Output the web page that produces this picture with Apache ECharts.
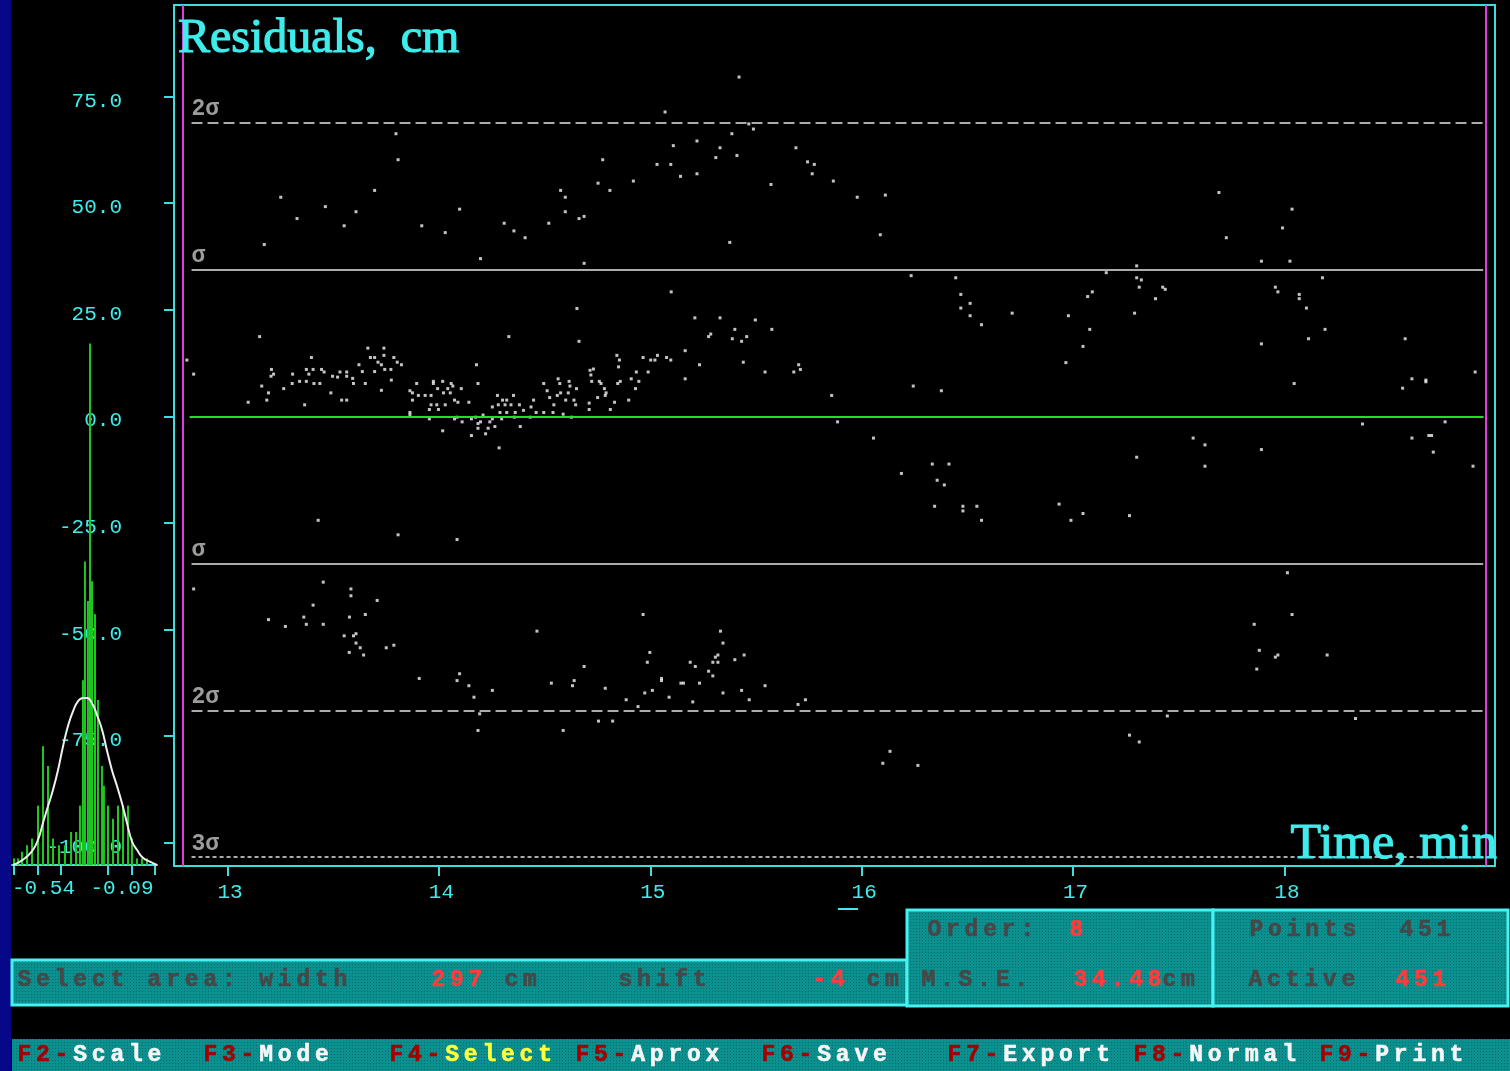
<!DOCTYPE html>
<html>
<head>
<meta charset="utf-8">
<script src="https://cdn.jsdelivr.net/npm/echarts@6/dist/echarts.min.js"></script>
<style>
  html, body { margin: 0; padding: 0; background: #000; }
  #chart { width: 1510px; height: 1071px; }
</style>
</head>
<body>
<div id="chart"></div>
<script>
// ---- axis ticks -------------------------------------------------------
const timeTicks = [13, 14, 15, 16, 17, 18];
const residualTicks = [75, 50, 25, 0, -25, -50, -75, -100];
const histTicks = [-0.69, -0.54, -0.39, -0.09, 0.06, 0.21];
const histLabelTicks = [-0.54, -0.09];

// ---- fit statistics ---------------------------------------------------
const mse = 34.48;            // cm
const fitOrder = 8;
const pointsTotal = 451;
const pointsActive = 451;
const selectWidth = 297;      // cm
const selectShift = -4;       // cm
const selection = [12.788, 18.95];   // min, selected time window
const sigmaLevels = [2, 1, -1, -2, -3];

// ---- residuals: [time, min ; residual, cm] -----------------------------
const samples = [
  [15.42,79.6],[15.07,71.4],[15.466,68.6],[15.488,67.4],[13.797,66.3],[15.386,66.3],[15.221,64.6],[15.109,63.5],
  [15.330,63.0],[15.689,63.0],[15.310,60.7],[15.410,61.2],[13.807,60.2],[14.775,60.2],[15.032,59.1],[15.097,59.1],
  [15.744,59.7],[15.776,59.1],[15.766,56.9],[15.143,56.3],[15.221,56.9],[15.866,55.2],[14.920,55.2],[14.753,54.7],
  [15.571,54.4],[13.696,53.0],[14.576,53.0],[14.809,53.0],[13.252,51.4],[14.598,51.4],[13.463,49.2],[14.098,48.6],
  [13.608,48.0],[14.598,48.0],[14.687,46.9],[14.663,46.4],[13.329,46.4],[14.309,45.3],[14.520,45.3],[13.552,44.7],
  [13.919,44.7],[14.355,43.5],[14.030,43.1],[14.408,41.9],[15.376,40.8],[13.174,40.3],[14.197,37.0],[14.687,35.9],
  [15.099,29.2],[14.653,25.3],[15.211,23.1],[15.330,23.1],[15.497,22.6],[15.575,20.4],[13.152,18.7],[14.331,18.7],
  [15.286,19.3],[15.276,18.7],[15.400,20.4],[15.388,18.2],[15.432,17.6],[15.456,18.7],[14.663,17.6],[15.165,15.4],
  [12.808,13.2],[12.840,9.9],[13.397,13.8],
  [13.664,16.0],[13.740,16.0],[13.676,13.8],[13.696,13.8],[13.740,14.3],[13.712,12.7],[13.787,13.8],[13.803,12.7],
  [13.823,12.1],[13.728,12.1],[13.744,11.0],[13.773,11.0],[13.622,12.1],[13.638,10.5],[13.696,10.5],[13.775,8.5],
  [13.728,6.1],[13.208,11.0],[13.218,9.9],[13.206,9.4],[13.308,9.9],[13.373,11.0],[13.405,11.0],[13.385,9.9],
  [13.445,11.0],[13.457,10.4],[13.497,9.4],[13.521,9.2],[13.532,10.4],[13.564,10.4],[13.564,9.4],[13.592,8.9],
  [13.596,7.7],[13.652,7.7],[13.341,8.2],[13.373,8.2],[13.409,7.7],[13.437,7.7],[13.306,7.7],[13.162,7.1],
  [13.194,5.5],[13.266,6.5],[13.489,5.5],[13.098,3.3],[13.186,3.8],[13.365,2.7],[13.540,3.8],[13.564,3.8],
  [13.895,7.7],[13.875,5.5],[13.863,6.0],[13.875,3.8],[13.974,8.2],[13.974,7.7],[14.018,8.2],[14.058,7.7],
  [14.066,7.1],[13.994,6.5],[14.042,6.5],[14.106,6.5],[13.903,4.9],[13.935,4.9],[13.963,4.9],[14.022,5.5],
  [14.054,5.5],[13.963,2.7],[13.990,2.7],[14.030,2.7],[13.955,1.6],[13.998,1.6],[14.074,3.8],[14.090,3.3],
  [14.142,3.3],[14.185,7.7],[14.178,12.1],
  [14.277,4.9],[14.301,3.8],[14.321,3.8],[14.353,4.9],[14.281,2.7],[14.313,2.7],[14.341,2.7],[14.381,2.7],
  [14.253,2.2],[14.289,0.9],[14.321,0.9],[14.361,0.9],[14.400,1.4],[14.448,3.8],[14.436,2.2],[14.460,0.9],
  [13.863,0.9],[13.863,0.3],
  [14.496,7.7],[14.512,6.0],[14.564,8.8],[14.572,7.7],[14.560,4.9],[14.616,8.2],[14.620,7.1],[14.651,6.5],
  [14.576,5.5],[14.612,5.5],[14.600,3.8],[14.639,3.8],[14.647,2.7],[14.524,4.4],[14.544,2.7],[14.496,0.9],
  [14.540,0.9],[14.588,0.5],[14.627,-0.2],
  [14.715,10.8],[14.731,11.1],[14.719,9.7],[14.723,8.2],[14.759,8.2],[14.767,7.7],[14.783,6.5],[14.791,5.5],
  [14.787,4.9],[14.751,4.4],[14.711,3.1],[14.711,1.6],[14.831,3.3],[14.811,1.6],
  [14.842,14.3],[14.854,13.2],[14.850,11.6],[14.846,7.7],[14.858,8.2],[14.898,3.8],[14.934,10.4],[14.910,8.8],
  [14.946,8.2],[14.930,6.5],[14.990,10.4],[14.966,13.8],[15.002,13.2],[15.022,13.2],[15.034,14.3],[15.077,13.8],
  [15.097,13.2],[15.165,8.8],[15.233,12.1],[15.440,12.7],[15.543,10.4],[15.679,10.4],[15.702,12.1],[15.710,11.0],
  [15.858,4.9],
  [13.955,-0.6],[14.018,-3.4],[14.074,-0.6],[14.086,-0.2],[14.110,-1.3],[14.154,-0.6],[14.154,-4.5],[14.174,-0.2],
  [14.185,-1.7],[14.185,-2.8],[14.197,-1.3],[14.221,-4.1],[14.233,-2.8],[14.241,-1.3],[14.253,-0.6],[14.265,-2.4],
  [14.285,-7.4],[14.297,-0.6],[14.357,-0.2],[14.385,-2.4],[14.432,-0.2],[14.209,0.3],
  [13.429,-24.4],[13.807,-27.8],[14.086,-28.9],[12.840,-40.5],[13.453,-38.9],[13.584,-40.5],[13.584,-42.1],[13.708,-43.2],
  [13.405,-44.3],[13.194,-47.7],[13.274,-49.3],[13.361,-47.1],[13.373,-48.8],[13.453,-48.8],[13.577,-47.1],[13.652,-46.5],
  [13.552,-51.5],[13.596,-51.5],[13.608,-51.0],[13.608,-53.2],[13.628,-54.3],[13.576,-55.4],[13.644,-56.0],[13.751,-54.3],
  [13.787,-53.7],[14.464,-50.4],[14.966,-46.5],[15.332,-50.4],[15.344,-53.2],[15.444,-56.0],[15.400,-57.1],[14.998,-55.4],
  [14.986,-57.7],[15.320,-56.0],[15.308,-56.5],[15.296,-57.7],[15.320,-57.7],[15.189,-57.7],[15.213,-58.7],[15.276,-59.8],
  [15.296,-60.9],[14.687,-58.7],[14.098,-60.4],[14.086,-62.0],[14.142,-63.2],[14.166,-65.9],[14.253,-64.3],[13.907,-61.5],
  [14.532,-62.6],[14.640,-62.0],[14.632,-63.2],[14.787,-63.8],[14.886,-66.5],[14.942,-68.1],[14.974,-64.9],[15.010,-64.3],
  [15.053,-61.5],[15.053,-62.0],[15.089,-65.9],[15.145,-62.6],[15.157,-62.6],[15.201,-67.0],[15.233,-62.6],[15.344,-64.9],
  [15.432,-64.3],[15.468,-66.5],[15.543,-63.2],[15.699,-67.6],[15.734,-66.5],[14.193,-69.8],[14.185,-73.7],[14.588,-73.7],
  [14.755,-71.5],[14.822,-71.5],[15.886,-1.3],
  [15.979,51.4],[16.112,51.9],[17.690,52.5],[18.036,48.6],[17.991,44.2],[16.088,42.6],[17.725,41.9],[17.891,36.4],
  [18.026,36.4],[17.301,35.3],[16.234,33.0],[16.445,32.5],[17.157,33.7],[17.301,32.5],[17.323,32.0],[17.313,30.3],
  [17.424,30.3],[17.436,29.8],[18.180,32.5],[17.957,30.3],[17.969,29.2],[18.070,28.6],[18.070,27.6],[18.104,25.4],
  [16.469,28.6],[16.513,26.5],[16.469,25.4],[16.513,23.6],[16.567,21.5],[16.712,24.2],[16.978,23.6],[17.091,29.2],
  [17.069,28.1],[17.390,27.6],[17.291,24.2],[17.079,20.4],[17.047,16.4],[16.966,12.6],[18.192,20.4],[18.114,18.2],
  [18.571,18.2],[17.891,17.0],[18.046,7.7],[18.559,6.6],[18.603,8.8],[18.669,8.5],[18.669,8.1],[18.902,10.4],
  [16.244,7.1],[16.377,6.0],
  [16.056,-5.1],[16.188,-13.4],[16.334,-11.2],[16.413,-11.2],[16.357,-15.0],[16.391,-16.1],[16.345,-21.1],[16.479,-21.1],
  [16.479,-22.2],[16.545,-21.1],[16.567,-24.4],[16.934,-20.6],[16.990,-24.4],[17.047,-22.8],[17.267,-23.3],[17.301,-9.6],
  [17.568,-5.1],[17.624,-6.7],[17.624,-11.7],[17.891,-7.8],[18.369,-1.8],[18.603,-5.1],[18.683,-4.5],[18.696,-4.5],
  [18.704,-8.4],[18.760,-1.3],[18.892,-11.7],[18.014,-36.7],[18.036,-46.5],[17.857,-48.8],[17.881,-54.9],[17.957,-56.5],
  [17.969,-56.0],[17.869,-59.3],[18.202,-56.0],[17.446,-70.3],[18.336,-70.9],[17.267,-74.8],[17.313,-76.4],[16.134,-78.6],
  [16.100,-81.4],[16.266,-81.9]
];

// ---- residual histogram and its normal fit ----------------------------
const histBins = [-0.690,-0.664,-0.639,-0.607,-0.575,-0.537,-0.505,-0.473,-0.441,-0.403,-0.365,-0.326,-0.294,-0.269,
                  -0.250,-0.237,-0.218,-0.205,-0.192,-0.173,-0.154,-0.128,-0.116,-0.090,-0.058,-0.026,0.006,0.038,
                  0.063,0.095,0.127,0.159,0.191];
const histCounts = [1,1,2,3,4,9,18,15,4,3,3,5,5,9,28,46,40,79,43,38,25,15,12,9,7,9,9,9,4,1,1,1,0];
const fitX = [-0.696,-0.633,-0.575,-0.537,-0.505,-0.473,-0.441,-0.409,-0.377,-0.345,-0.313,-0.282,-0.250,-0.224,
              -0.192,-0.160,-0.128,-0.097,-0.065,-0.033,-0.001,0.031,0.063,0.095,0.133,0.178,0.223];
const fitY = [0,0.8,2.1,3.8,6.4,8.9,11.4,14.4,18.0,21.1,23.3,24.8,25.3,25.3,24.5,22.7,20.5,17.4,14.4,12.0,9.4,6.4,
              3.6,2.3,1.1,0.5,0];

// ---- styling ------------------------------------------------------------
const CYAN = '#3fecec';
const FRAME = '#3fdede';
const SIGMA = '#ababab';
const MONO = '"Liberation Mono", "DejaVu Sans Mono", monospace';
const MONO_FAMILY = 'Liberation Mono';
const CELL = 18.6;   // text-mode character cell width

// dotted teal fill used by the status panels
function tealPattern() {
  const c = document.createElement('canvas');
  c.width = 3; c.height = 3;
  const g = c.getContext('2d');
  g.fillStyle = '#0b9090'; g.fillRect(0, 0, 3, 3);
  g.fillStyle = '#066c6c'; g.fillRect(1, 1, 1, 1);
  return { image: c, repeat: 'repeat' };
}
const TEAL = tealPattern();

// text laid out in fixed character cells, like a text-mode screen
function cellText(str, x, y, color) {
  const out = [];
  for (let i = 0; i < str.length; i++) {
    const ch = str[i];
    if (ch === ' ') continue;
    out.push({
      type: 'text', x: x + i * CELL + CELL / 2, y: y, z: 20,
      style: { text: ch, fill: color, stroke: color, lineWidth: 0.6,
               font: 'bold 23px ' + MONO, align: 'center', verticalAlign: 'middle' }
    });
  }
  return out;
}

const DARK = '#474747', RED = '#ff3b3b', KEY = '#a40000', WHITE = '#f6f6f6', YELLOW = '#ffff3c';

const graphics = [
  { type: 'rect', shape: { x: 0, y: 0, width: 11, height: 1071 }, style: { fill: '#07078a' }, z: 1 },
  // status panels
  { type: 'rect', shape: { x: 12, y: 960, width: 895, height: 45 }, style: { fill: TEAL, stroke: '#45f2f2', lineWidth: 3 }, z: 5 },
  { type: 'rect', shape: { x: 907, y: 910, width: 306, height: 96 }, style: { fill: TEAL, stroke: '#45f2f2', lineWidth: 3 }, z: 5 },
  { type: 'rect', shape: { x: 1213, y: 910, width: 295, height: 96 }, style: { fill: TEAL, stroke: '#45f2f2', lineWidth: 3 }, z: 5 },
  { type: 'rect', shape: { x: 12, y: 1039, width: 1498, height: 32 }, style: { fill: TEAL }, z: 5 },
  { type: 'rect', shape: { x: 838, y: 908, width: 20, height: 2 }, style: { fill: CYAN }, z: 5 },
  // titles
  { type: 'text', x: 178, y: 39, z: 20,
    style: { text: 'Residuals,  cm', fill: CYAN, stroke: CYAN, lineWidth: 1.2,
             font: '48px "Liberation Serif", serif', verticalAlign: 'middle' } },
  { type: 'text', x: 1497, y: 845, z: 20,
    style: { text: 'Time, min', fill: CYAN, stroke: CYAN, lineWidth: 1.2,
             font: '50px "Liberation Serif", serif', align: 'right', verticalAlign: 'middle' } }
].concat(
  cellText('Select area: width', 15, 980, DARK),
  cellText(String(selectWidth), 429, 980, RED),
  cellText('cm', 502, 980, DARK),
  cellText('shift', 616, 980, DARK),
  cellText(String(selectShift), 810, 980, RED),
  cellText('cm', 864, 980, DARK),
  cellText('Order:', 925, 930, DARK),
  cellText(String(fitOrder), 1067, 930, RED),
  cellText('M.S.E.', 919, 980, DARK),
  cellText(mse.toFixed(2), 1071, 980, RED),
  cellText('cm', 1160, 980, DARK),
  cellText('Points', 1247, 930, DARK),
  cellText(String(pointsTotal), 1397, 930, DARK),
  cellText('Active', 1246, 980, DARK),
  cellText(String(pointsActive), 1393, 980, RED)
);

// function-key bar
const keys = [['F2', 'Scale', WHITE], ['F3', 'Mode', WHITE], ['F4', 'Select', YELLOW], ['F5', 'Aprox', WHITE],
              ['F6', 'Save', WHITE], ['F7', 'Export', WHITE], ['F8', 'Normal', WHITE], ['F9', 'Print', WHITE]];
keys.forEach((k, i) => {
  const x0 = 15 + i * 10 * CELL;
  graphics.push(...cellText(k[0] + '-', x0, 1055, KEY));
  graphics.push(...cellText('   ' + k[1], x0, 1055, k[2]));
});

// sigma bands as horizontal segments
const lineStart = 12.83, lineEnd = 18.94;
const sigmaData = sigmaLevels.map(k => {
  const a = Math.abs(k);
  const dash = a === 1 ? 'solid' : (a === 3 ? [4, 3] : [11, 5]);
  return [
    { coord: [lineStart, k * mse],
      lineStyle: { color: SIGMA, width: 2, type: dash },
      label: { show: true, formatter: (a === 1 ? '' : a) + 'σ', position: 'insideStartTop', distance: [0, 2],
               color: '#9c9c9c', fontFamily: MONO_FAMILY, fontWeight: 'bold', fontSize: 23 } },
    { coord: [lineEnd, k * mse] }
  ];
});

const axisFont = { color: CYAN, fontFamily: MONO_FAMILY, fontSize: 21 };

const option = {
  backgroundColor: '#000',
  animation: false,
  graphic: graphics,
  grid: [
    { left: 174, top: 5, width: 1321, height: 861, show: true, borderColor: FRAME, borderWidth: 2, backgroundColor: 'transparent' },
    { left: 12, top: 337, width: 145, height: 528 }
  ],
  xAxis: [
    { type: 'value', gridIndex: 0, min: 12.747, max: 18.996,
      axisLine: { show: false, onZero: false }, splitLine: { show: false },
      axisTick: { show: true, customValues: timeTicks, length: 10, lineStyle: { color: FRAME, width: 2 } },
      axisLabel: { customValues: timeTicks, margin: 16, formatter: v => '{t|' + v + '}',
                   rich: { t: Object.assign({ padding: [0, 0, 0, 5] }, axisFont) } } },
    { type: 'value', gridIndex: 1, min: -0.703, max: 0.223,
      axisLine: { show: true, onZero: false, lineStyle: { color: FRAME, width: 2 } }, splitLine: { show: false },
      axisTick: { show: true, customValues: histTicks, length: 10, lineStyle: { color: FRAME, width: 2 } },
      axisLabel: { customValues: histLabelTicks, margin: 13,
                   formatter: v => (v < -0.3 ? '{a|' : '{b|') + v.toFixed(2) + '}',
                   rich: { a: Object.assign({ padding: [0, 0, 0, 12] }, axisFont),
                           b: Object.assign({ padding: [0, 0, 0, 28] }, axisFont) } } }
  ],
  yAxis: [
    { type: 'value', gridIndex: 0, min: -105.5, max: 96.5,
      axisLine: { show: false, onZero: false }, splitLine: { show: false },
      axisTick: { show: true, customValues: residualTicks, length: 10, lineStyle: { color: FRAME, width: 2 } },
      axisLabel: { customValues: residualTicks, margin: 52,
                   formatter: v => '{t|' + v.toFixed(1) + '}',
                   rich: { t: Object.assign({ padding: [9, 0, 0, 0] }, axisFont) } } },
    { type: 'value', gridIndex: 1, min: 0, max: 80, show: false }
  ],
  series: [
    { type: 'line', xAxisIndex: 0, yAxisIndex: 0, data: [], silent: true, z: 3,
      markLine: { silent: true, symbol: ['none', 'none'], animation: false,
        data: sigmaData.concat([
          [ { coord: [12.821, 0], lineStyle: { color: '#22e022', width: 2, type: 'solid' }, label: { show: false } },
            { coord: [18.942, 0] } ],
          { xAxis: selection[0], lineStyle: { color: '#e03ce0', width: 2, type: 'solid' }, label: { show: false } },
          { xAxis: selection[1], lineStyle: { color: '#e03ce0', width: 2, type: 'solid' }, label: { show: false } }
        ]) } },
    { type: 'scatter', xAxisIndex: 0, yAxisIndex: 0, data: samples, symbol: 'rect', symbolSize: 3,
      itemStyle: { color: '#f4f4f4' }, silent: true, z: 4 },
    { type: 'bar', xAxisIndex: 1, yAxisIndex: 1, data: histBins.map((b, i) => [b, histCounts[i]]),
      barWidth: 2, itemStyle: { color: '#1ec81e' }, silent: true, z: 6 },
    { type: 'line', xAxisIndex: 1, yAxisIndex: 1, data: fitX.map((x, i) => [x, fitY[i]]), smooth: true,
      symbol: 'none', lineStyle: { color: '#f0f0f0', width: 2 }, silent: true, z: 7 }
  ]
};

const chart = echarts.init(document.getElementById('chart'));
chart.setOption(option);
</script>
</body>
</html>
